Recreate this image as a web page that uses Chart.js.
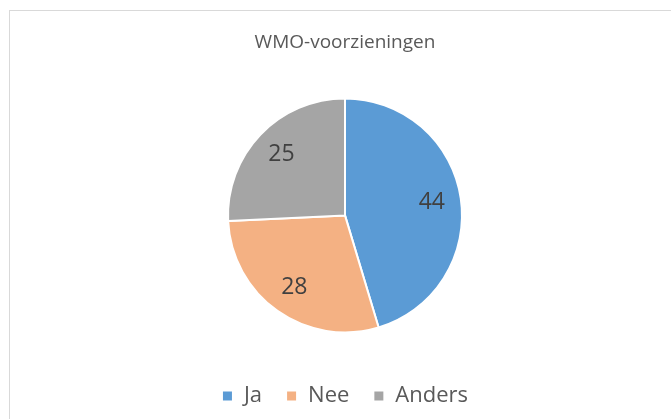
<!DOCTYPE html>
<html>
<head>
<meta charset="utf-8">
<script src="https://cdn.jsdelivr.net/npm/chart.js@4.4.0/dist/chart.umd.min.js"></script>
<style>
  body { margin: 0; background: #fff; }
  #wrap { position: relative; width: 671px; height: 419px; overflow: hidden; }
  #frame { position: absolute; left: 9px; top: 10px; width: 700px; height: 450px; border: 1px solid #d9d9d9; }
  #c { position: absolute; left: 0; top: 0; }
</style>
</head>
<body>
<div id="wrap">
  <div id="frame"></div>
  <canvas id="c" width="671" height="419"></canvas>
</div>
<script>
const labels = ["Ja", "Nee", "Anders"];
const values = [44, 28, 25];
const colors = ["#5B9BD5", "#F4B183", "#A5A5A5"];
const chartTitle = "WMO-voorzieningen";

// waarden in de taartpunten tekenen
const valueLabels = {
  id: "valueLabels",
  afterDatasetsDraw(chart) {
    const ctx = chart.ctx;
    const meta = chart.getDatasetMeta(0);
    ctx.save();
    ctx.font = "23px 'Open Sans'";
    ctx.fillStyle = "#404040";
    ctx.textAlign = "center";
    ctx.textBaseline = "middle";
    meta.data.forEach((arc, i) => {
      const mid = (arc.startAngle + arc.endAngle) / 2;
      const r = arc.outerRadius * 0.75;
      ctx.fillText(values[i], arc.x + Math.cos(mid) * r, arc.y + Math.sin(mid) * r);
    });
    ctx.restore();
  }
};

new Chart(document.getElementById("c"), {
  type: "pie",
  data: {
    labels: labels,
    datasets: [{
      data: values,
      backgroundColor: colors,
      borderColor: "#ffffff",
      borderWidth: 2
    }]
  },
  options: {
    responsive: false,
    animation: false,
    radius: 117,
    layout: { padding: { left: 19, right: 0, top: 18, bottom: 2 } },
    plugins: {
      title: {
        display: true,
        text: chartTitle,
        color: "#595959",
        font: { family: "'Open Sans'", size: 19, weight: "normal" },
        padding: { top: 13, bottom: 16 }
      },
      legend: {
        position: "bottom",
        labels: {
          color: "#595959",
          font: { family: "'Open Sans'", size: 22 },
          boxWidth: 11,
          boxHeight: 11,
          padding: 24
        }
      },
      tooltip: { enabled: false }
    }
  },
  plugins: [valueLabels]
});
</script>
</body>
</html>
